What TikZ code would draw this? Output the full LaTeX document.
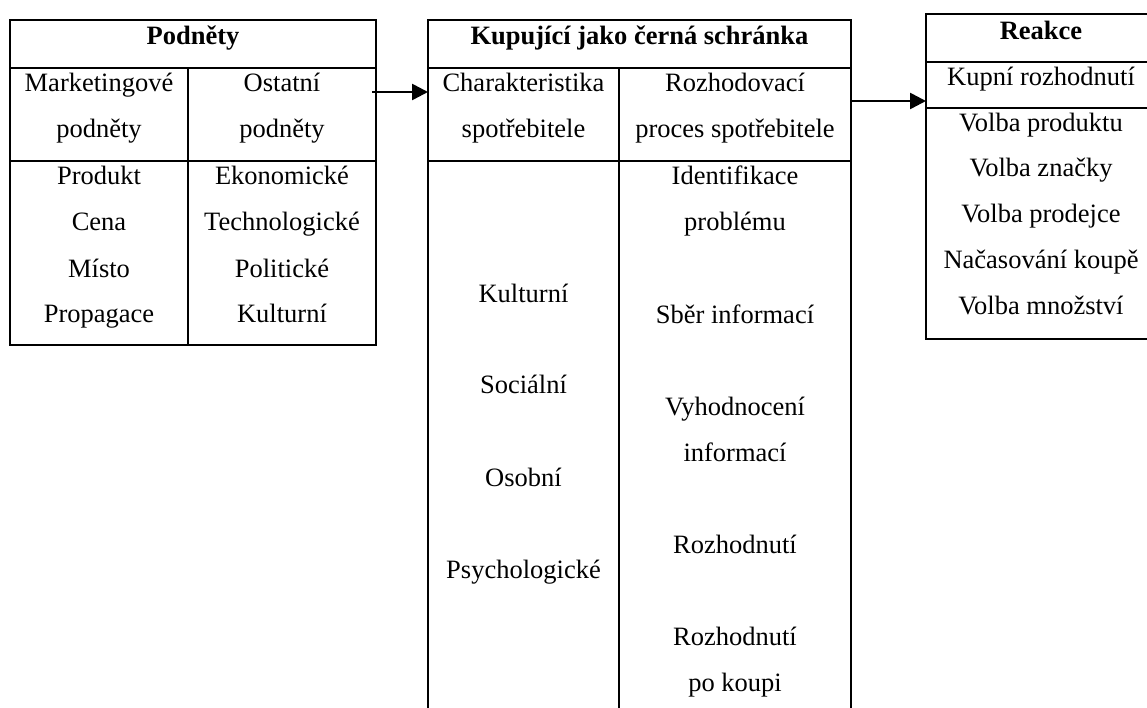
\documentclass[tikz,border=0pt]{standalone}
\usepackage{fontspec}
\setmainfont{Liberation Serif}
\usetikzlibrary{arrows.meta}
\begin{document}
\begin{tikzpicture}[x=1pt,y=-1pt,
  rule/.style={line width=2pt,line cap=rect},
  txt/.style={inner sep=0pt,anchor=base,font=\fontsize{26.5}{30}\selectfont},
  head/.style={txt,font=\fontsize{26.5}{30}\selectfont\bfseries},
  flow/.style={line width=2.6pt,-{Triangle[length=16pt,width=16pt]}}]
\useasboundingbox (0,0) rectangle (1147,708);

% Stimuli table
\draw[rule] (10,20) rectangle (376,345);
\draw[rule] (10,68) -- (376,68);
\draw[rule] (10,161) -- (376,161);
\draw[rule] (188,68) -- (188,345);
\node[head] (pH) at (193,45) {Podněty};
\node[txt] (p1a) at (99,92) {Marketingové};
\node[txt] (p1b) at (99,138) {podněty};
\node[txt] (p2a) at (282,92) {Ostatní};
\node[txt] (p2b) at (282,138) {podněty};
\node[txt] (m1) at (99,185) {Produkt};
\node[txt] (m2) at (99,231) {Cena};
\node[txt] (m3) at (99,277) {Místo};
\node[txt] (m4) at (99,322) {Propagace};
\node[txt] (o1) at (282,185) {Ekonomické};
\node[txt] (o2) at (282,231) {Technologické};
\node[txt] (o3) at (282,277) {Politické};
\node[txt] (o4) at (282,322) {Kulturní};

% Buyer's black box table (open at the bottom)
\draw[rule] (428,709) -- (428,20) -- (851,20) -- (851,709);
\draw[rule] (428,68) -- (851,68);
\draw[rule] (428,161) -- (851,161);
\draw[rule] (619,68) -- (619,709);
\node[head] (kH) at (639.5,45) {Kupující jako černá schránka};
\node[txt] (k1a) at (523.5,92) {Charakteristika};
\node[txt] (k1b) at (523.5,138) {spotřebitele};
\node[txt] (k2a) at (735,92) {Rozhodovací};
\node[txt] (k2b) at (735,138) {proces spotřebitele};
\node[txt] (c1) at (523.5,302) {Kulturní};
\node[txt] (c2) at (523.5,393) {Sociální};
\node[txt] (c3) at (523.5,486) {Osobní};
\node[txt] (c4) at (523.5,578) {Psychologické};
\node[txt] (r1a) at (735,185) {Identifikace};
\node[txt] (r1b) at (735,231) {problému};
\node[txt] (r2) at (735,323) {Sběr informací};
\node[txt] (r3a) at (735,415) {Vyhodnocení};
\node[txt] (r3b) at (735,461) {informací};
\node[txt] (r4) at (735,553) {Rozhodnutí};
\node[txt] (r5a) at (735,645) {Rozhodnutí};
\node[txt] (r5b) at (735,691) {po koupi};

% Response table (runs off the right edge)
\draw[rule] (1148,14) -- (926,14) -- (926,339) -- (1148,339);
\draw[rule] (926,62) -- (1148,62);
\draw[rule] (926,108) -- (1148,108);
\node[head] (rH) at (1041,40) {Reakce};
\node[txt] (rk) at (1041,86) {Kupní rozhodnutí};
\node[txt] (v1) at (1041,132) {Volba produktu};
\node[txt] (v2) at (1041,177) {Volba značky};
\node[txt] (v3) at (1041,223) {Volba prodejce};
\node[txt] (v4) at (1041,269) {Načasování koupě};
\node[txt] (v5) at (1041,314) {Volba množství};

% Flow arrows between the tables
\coordinate (a1s) at (372,92);
\coordinate (a1e) at (428,92);
\coordinate (a2s) at (851,101);
\coordinate (a2e) at (926,101);
\draw[flow] (a1s) -- (a1e);
\draw[flow] (a2s) -- (a2e);
\end{tikzpicture}
\end{document}
